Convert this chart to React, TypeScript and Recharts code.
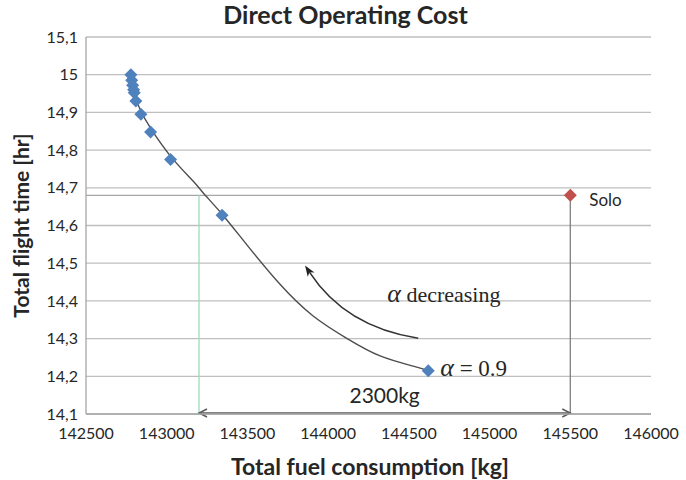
import {
  CartesianGrid,
  ComposedChart,
  Line,
  ReferenceDot,
  ReferenceLine,
  Scatter,
  XAxis,
  YAxis,
} from "recharts"

const fuelTicks = [142500, 143000, 143500, 144000, 144500, 145000, 145500, 146000]
const timeTicks = [14.1, 14.2, 14.3, 14.4, 14.5, 14.6, 14.7, 14.8, 14.9, 15, 15.1]

// optimised formation results, alpha from low (top) to 0.9 (bottom)
const frontFuel = [142778, 142783, 142789, 142795, 142799, 142809, 142840, 142900, 143024, 143343, 144620]
const frontTime = [15.0, 14.985, 14.972, 14.96, 14.952, 14.93, 14.895, 14.848, 14.775, 14.627, 14.215]

// trend line through the front
const fitFuel = [142785, 142841, 142903, 143027, 143163, 143225, 143343, 143498, 143702, 143907, 144118, 144322, 144527, 144620]
const fitTime = [14.959, 14.903, 14.856, 14.782, 14.718, 14.687, 14.63, 14.548, 14.444, 14.36, 14.3, 14.254, 14.227, 14.215]

const soloFuel = 145500
const soloTime = 14.68
const fuelSaving = 2300

const frontData = frontFuel.map((x, i) => ({ x, y: frontTime[i] }))
const fitData = fitFuel.map((x, i) => ({ x, y: fitTime[i] }))
const soloData = [{ x: soloFuel, y: soloTime }]

const SANS = "Lato, 'Open Sans', sans-serif"
const SERIF = "'Liberation Serif', 'DejaVu Serif', serif"
const INK = "#262626"

const diamond = (color: string, r: number) => (props: any) => {
  const { cx, cy } = props
  return (
    <path
      d={`M${cx},${cy - r}L${cx + r},${cy}L${cx},${cy + r}L${cx - r},${cy}Z`}
      fill={color}
    />
  )
}

// horizontal double-headed arrow with the saving written above it
const GapArrow = (props: any) => {
  const { x1, x2 } = props
  const y = props.y1 - 1
  const h = 8
  const w = 4
  const stroke = "#595959"
  return (
    <g>
      <line x1={x1} y1={y} x2={x2} y2={y} stroke={stroke} strokeWidth={1.4} />
      <path d={`M${x1 + h},${y - w}L${x1},${y}L${x1 + h},${y + w}`} fill="none" stroke={stroke} strokeWidth={1.4} />
      <path d={`M${x2 - h},${y - w}L${x2},${y}L${x2 - h},${y + w}`} fill="none" stroke={stroke} strokeWidth={1.4} />
      <text
        x={(x1 + x2) / 2}
        y={y - 10}
        textAnchor="middle"
        fontFamily={SANS}
        fontSize={21}
        fill={INK}
      >
        {fuelSaving}kg
      </text>
    </g>
  )
}

// curved arrow bowing below its chord, head at (x2, y2)
const CurvedArrow = (props: any) => {
  const { x1, y1, x2, y2 } = props
  const dx = x2 - x1
  const dy = y2 - y1
  const len = Math.hypot(dx, dy)
  const bow = 30
  const cx = (x1 + x2) / 2 + (dy / len) * bow
  const cy = (y1 + y2) / 2 + (-dx / len) * bow
  const tx = x2 - cx
  const ty = y2 - cy
  const tl = Math.hypot(tx, ty)
  const ux = tx / tl
  const uy = ty / tl
  const hl = 11
  const hw = 4
  const bx = x2 - ux * hl
  const by = y2 - uy * hl
  return (
    <g>
      <path
        d={`M${x1},${y1}Q${cx},${cy} ${bx + ux * 3},${by + uy * 3}`}
        fill="none"
        stroke="#333"
        strokeWidth={1.6}
      />
      <path
        d={`M${x2},${y2}L${bx - uy * hw},${by + ux * hw}L${bx + ux * 3},${by + uy * 3}L${bx + uy * hw},${by - ux * hw}Z`}
        fill="#222"
      />
    </g>
  )
}

const YTitle = (props: any) => {
  const vb = props.viewBox || { x: 0, y: 37, height: 377 }
  const x = vb.x + 20
  const y = vb.y + vb.height / 2
  return (
    <text
      x={x}
      y={y}
      transform={`rotate(-90 ${x} ${y})`}
      textAnchor="middle"
      dominantBaseline="central"
      fontFamily={SANS}
      fontWeight={700}
      fontSize={21}
      fill={INK}
    >
      Total flight time [hr]
    </text>
  )
}

const XTitle = (props: any) => {
  const vb = props.viewBox || { x: 86, y: 414, width: 565 }
  return (
    <text
      x={370}
      y={vb.y + 61}
      textAnchor="middle"
      fontFamily={SANS}
      fontWeight={700}
      fontSize={23}
      fill={INK}
    >
      Total fuel consumption [kg]
    </text>
  )
}

export default function App() {
  return (
    <div
      style={{
        position: "absolute",
        left: 0,
        top: 0,
        width: 686,
        height: 480,
        background: "#fff",
      }}
    >
      <div
        style={{
          position: "absolute",
          left: 0,
          top: 0,
          width: 691,
          textAlign: "center",
          fontFamily: SANS,
          fontWeight: 700,
          fontSize: 25,
          lineHeight: "29px",
          color: INK,
        }}
      >
        Direct Operating Cost
      </div>

      <ComposedChart
        width={686}
        height={480}
        margin={{ top: 37, right: 35, bottom: 0, left: 0 }}
      >
        <CartesianGrid vertical={false} stroke="#bfbfbf" strokeWidth={1.3} />

        <XAxis
          type="number"
          dataKey="x"
          domain={[142500, 146000]}
          ticks={fuelTicks}
          allowDataOverflow
          height={66}
          tickLine={false}
          tickMargin={8}
          axisLine={{ stroke: "#a6a6a6", strokeWidth: 1.3 }}
          tick={{ fill: INK, fontSize: 16, fontFamily: SANS }}
          label={<XTitle />}
        />

        <YAxis
          type="number"
          dataKey="y"
          domain={[14.1, 15.1]}
          ticks={timeTicks}
          allowDataOverflow
          width={86}
          tickLine={false}
          axisLine={{ stroke: "#a6a6a6", strokeWidth: 1.3 }}
          tick={{ fill: INK, fontSize: 16, fontFamily: SANS }}
          tickFormatter={(v: number) => String(v).replace(".", ",")}
          label={<YTitle />}
        />

        <ReferenceLine
          segment={[
            { x: 142500, y: soloTime },
            { x: soloFuel, y: soloTime },
          ]}
          stroke="#a6a6a6"
          strokeWidth={1.3}
        />

        <ReferenceLine
          segment={[
            { x: soloFuel, y: 14.1 },
            { x: soloFuel, y: soloTime },
          ]}
          stroke="#7f7f7f"
          strokeWidth={1.3}
        />

        <ReferenceLine
          segment={[
            { x: soloFuel - fuelSaving, y: 14.1 },
            { x: soloFuel - fuelSaving, y: soloTime },
          ]}
          stroke="#9ddcb9"
          strokeWidth={1.3}
        />

        <ReferenceLine
          segment={[
            { x: soloFuel - fuelSaving, y: 14.1 },
            { x: soloFuel, y: 14.1 },
          ]}
          shape={GapArrow}
        />

        <ReferenceLine
          segment={[
            { x: 144558, y: 14.301 },
            { x: 143857, y: 14.494 },
          ]}
          shape={CurvedArrow}
        />

        <Scatter
          data={frontData}
          dataKey="y"
          fill="#4f81bd"
          shape={diamond("#4f81bd", 6.5)}
          isAnimationActive={false}
        />

        <Scatter
          data={soloData}
          dataKey="y"
          fill="#c0504d"
          shape={diamond("#c0504d", 6.5)}
          isAnimationActive={false}
        />

        <Line
          data={fitData}
          dataKey="y"
          type="natural"
          stroke="#4d4d4d"
          strokeWidth={1.4}
          dot={false}
          activeDot={false}
          isAnimationActive={false}
        />

        <ReferenceDot
          x={soloFuel}
          y={soloTime}
          shape={(p: any) => (
            <text x={p.cx + 19} y={p.cy + 11} fontFamily={SANS} fontSize={17} fill={INK}>
              Solo
            </text>
          )}
        />

        <ReferenceDot
          x={frontFuel[frontFuel.length - 1]}
          y={frontTime[frontTime.length - 1]}
          shape={(p: any) => (
            <text x={p.cx + 12} y={p.cy + 5} fontFamily={SERIF} fontSize={23} fill={INK}>
              <tspan fontStyle="italic" fontSize={26}>α</tspan> = 0.9
            </text>
          )}
        />

        <ReferenceDot
          x={144366}
          y={14.396}
          shape={(p: any) => (
            <text x={p.cx} y={p.cy} fontFamily={SERIF} fontSize={22} fill={INK}>
              <tspan fontStyle="italic" fontSize={26}>α</tspan> decreasing
            </text>
          )}
        />
      </ComposedChart>
    </div>
  )
}
